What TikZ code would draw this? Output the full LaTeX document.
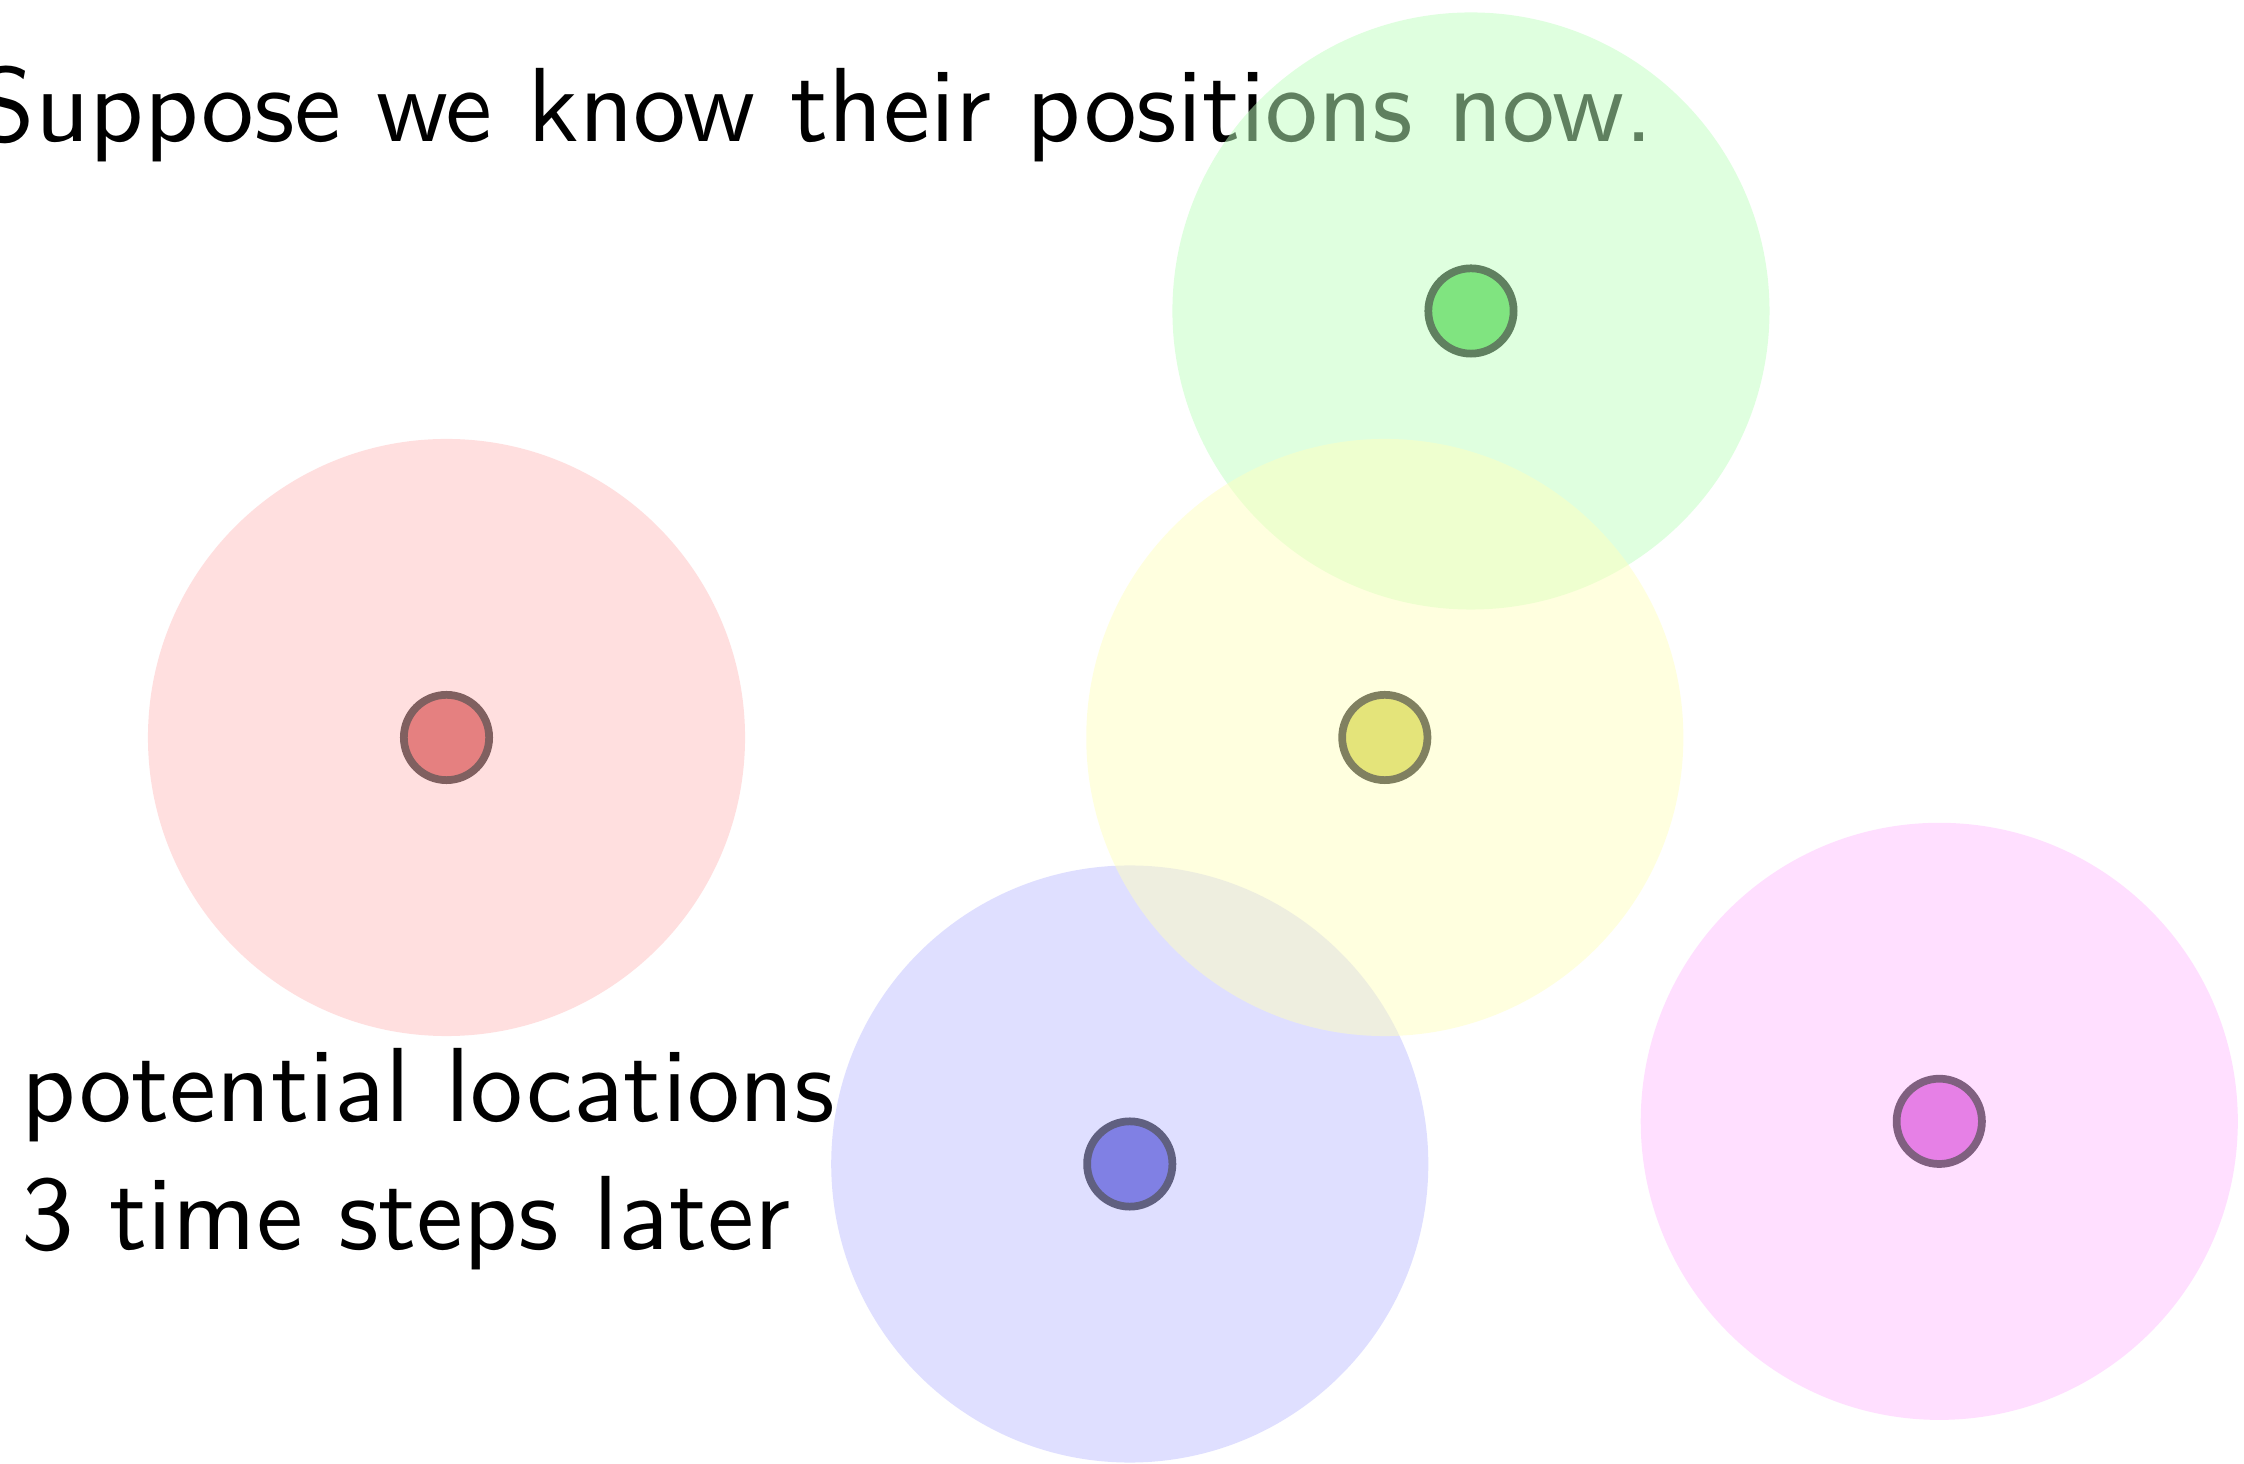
\documentclass[tikz,border=0pt]{standalone}
\usepackage{fontspec}
\usepackage{xcolor}
\usepackage{tikz}
\usetikzlibrary{positioning}
\newfontfamily\lblfont{lmsans10-regular.otf}
\definecolor{zonered}{RGB}{255,191,191}
\definecolor{zonegreen}{RGB}{191,255,191}
\definecolor{zoneblue}{RGB}{191,191,255}
\definecolor{zoneyellow}{RGB}{255,255,191}
\definecolor{zonemagenta}{RGB}{255,191,255}
\definecolor{dotred}{RGB}{229,128,128}
\definecolor{dotgreen}{RGB}{128,228,128}
\definecolor{dotblue}{RGB}{128,128,228}
\definecolor{dotyellow}{RGB}{228,228,122}
\definecolor{dotmagenta}{RGB}{230,128,230}
\definecolor{ringred}{RGB}{128,96,96}
\definecolor{ringgreen}{RGB}{96,128,96}
\definecolor{ringblue}{RGB}{96,96,128}
\definecolor{ringyellow}{RGB}{128,128,96}
\definecolor{ringmagenta}{RGB}{128,96,128}
\tikzset{
  zone/.style={fill=zone#1,fill opacity=0.5},
  agent/.style={fill=dot#1,draw=ring#1,line width=2.2pt},
  lbl/.style={inner sep=0pt,anchor=base west,font=\lblfont\fontsize{30pt}{36pt}\selectfont},
}

\begin{document}
\begin{tikzpicture}[x=4.265cm,y=4.265cm]
  \clip (-1.0469,-1.7011) rectangle (4.2145,1.7292);
  \node[lbl] (now) at (-1.1032,1.397) {Suppose we know their positions now.};
  % reachable region after 3 steps, then the agent itself
  \foreach \c/\x/\y in {red/0/0,green/2.402/1.0,blue/1.602/-1.0,yellow/2.2/0,magenta/3.5/-0.9}
    \fill[zone=\c] (\x,\y) circle (0.7);
  \foreach \c/\x/\y in {red/0/0,green/2.402/1.0,blue/1.602/-1.0,yellow/2.2/0,magenta/3.5/-0.9}
    \draw[agent=\c] (\x,\y) circle (0.1);
  \node[lbl] (pot) at (-0.9977,-0.9008) {potential locations};
  \node[lbl] (later) at ([yshift=-1.283cm]pot.base west) {3 time steps later};
\end{tikzpicture}
\end{document}
